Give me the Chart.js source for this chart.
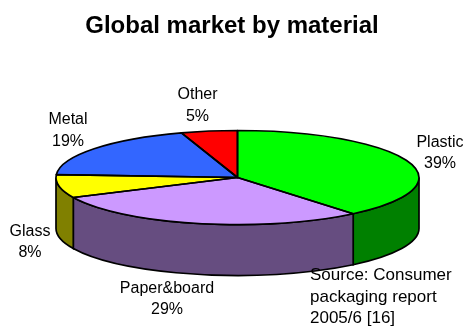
<!DOCTYPE html>
<html>
<head>
<meta charset="utf-8">
<title>Global market by material</title>
<style>
  html, body { margin: 0; padding: 0; background: #fff; }
  #myChart { display: block; }
</style>
<script src="https://cdn.jsdelivr.net/npm/chart.js@4/dist/chart.umd.min.js"></script>
</head>
<body>
<canvas id="myChart" width="464" height="327"></canvas>
<script>
// valores de la grafica
var materials = ['Plastic', 'Paper&board', 'Glass', 'Metal', 'Other'];
var shares = [39, 29, 8, 19, 5];
var topColors = ['#00FF00', '#CC99FF', '#FFFF00', '#3366FF', '#FF0000'];
var sideColors = ['#008000', '#664D80', '#808000', '#1A3380', '#800000'];
var sourceLines = ['Source: Consumer', 'packaging report', '2005/6 [16]'];

// tilted disc: ellipse centre, radii and wall height
var cx = 237.5, cy = 177.5, rx = 181.5, ry = 47, depth = 51;

// where each name/percent pair sits (centre x, baseline of first and second line)
var labelSpots = [
    [440, 147, 168],
    [167, 293, 314],
    [30, 236, 257],
    [68, 124, 146],
    [197.5, 99, 121]
];

var pie3d = {
    id: 'pie3d',
    // the library arcs are circles, so they get squashed here and the walls go under them
    beforeDatasetDraw: function (chart, args) {
        var ctx = chart.ctx;
        var arcs = args.meta.data;

        arcs.forEach(function (arc, i) {
            var a0 = Math.max(arc.startAngle, 0);
            var a1 = Math.min(arc.endAngle, Math.PI);
            if (a1 <= a0) return;
            ctx.save();
            ctx.beginPath();
            ctx.ellipse(cx, cy, rx, ry, 0, a0, a1);
            ctx.ellipse(cx, cy + depth, rx, ry, 0, a1, a0, true);
            ctx.closePath();
            ctx.fillStyle = sideColors[i];
            ctx.strokeStyle = '#000';
            ctx.lineWidth = 1.7;
            ctx.fill();
            ctx.stroke();
            ctx.restore();
        });

        arcs.forEach(function (arc) {
            var k = arc.outerRadius;
            ctx.save();
            ctx.translate(cx, cy);
            ctx.scale(rx / k, ry / k);
            ctx.translate(-arc.x, -arc.y);
            arc.draw(ctx);
            ctx.restore();
        });

        // outlines in screen space so the pen is not squashed as well
        arcs.forEach(function (arc) {
            ctx.save();
            ctx.beginPath();
            ctx.moveTo(cx, cy);
            ctx.ellipse(cx, cy, rx, ry, 0, arc.startAngle, arc.endAngle);
            ctx.closePath();
            ctx.strokeStyle = '#000';
            ctx.lineWidth = 1.7;
            ctx.lineJoin = 'round';
            ctx.stroke();
            ctx.restore();
        });
        return false;
    },
    afterDraw: function (chart) {
        var ctx = chart.ctx;
        ctx.save();
        ctx.fillStyle = '#000';
        ctx.font = '16px "Liberation Sans", Arial, sans-serif';
        ctx.textAlign = 'center';
        materials.forEach(function (name, i) {
            var s = labelSpots[i];
            ctx.fillText(name, s[0], s[1]);
            ctx.fillText(shares[i] + '%', s[0], s[2]);
        });
        ctx.textAlign = 'left';
        ctx.font = '17px "Liberation Sans", Arial, sans-serif';
        sourceLines.forEach(function (line, i) {
            ctx.fillText(line, 310, 280 + i * 21.5);
        });
        ctx.restore();
    }
};

var myChart = new Chart(document.getElementById('myChart').getContext('2d'), {
    type: 'pie',
    data: {
        labels: materials,
        datasets: [{
            data: shares,
            backgroundColor: topColors,
            borderWidth: 0
        }]
    },
    options: {
        responsive: false,
        animation: false,
        plugins: {
            legend: { display: false },
            tooltip: { enabled: false },
            title: {
                display: true,
                text: 'Global market by material',
                color: '#000',
                font: { family: '"Liberation Sans", Arial, sans-serif', size: 24, weight: 'bold' },
                padding: { top: 12, bottom: 10 }
            }
        }
    },
    plugins: [pie3d]
});
</script>
</body>
</html>
